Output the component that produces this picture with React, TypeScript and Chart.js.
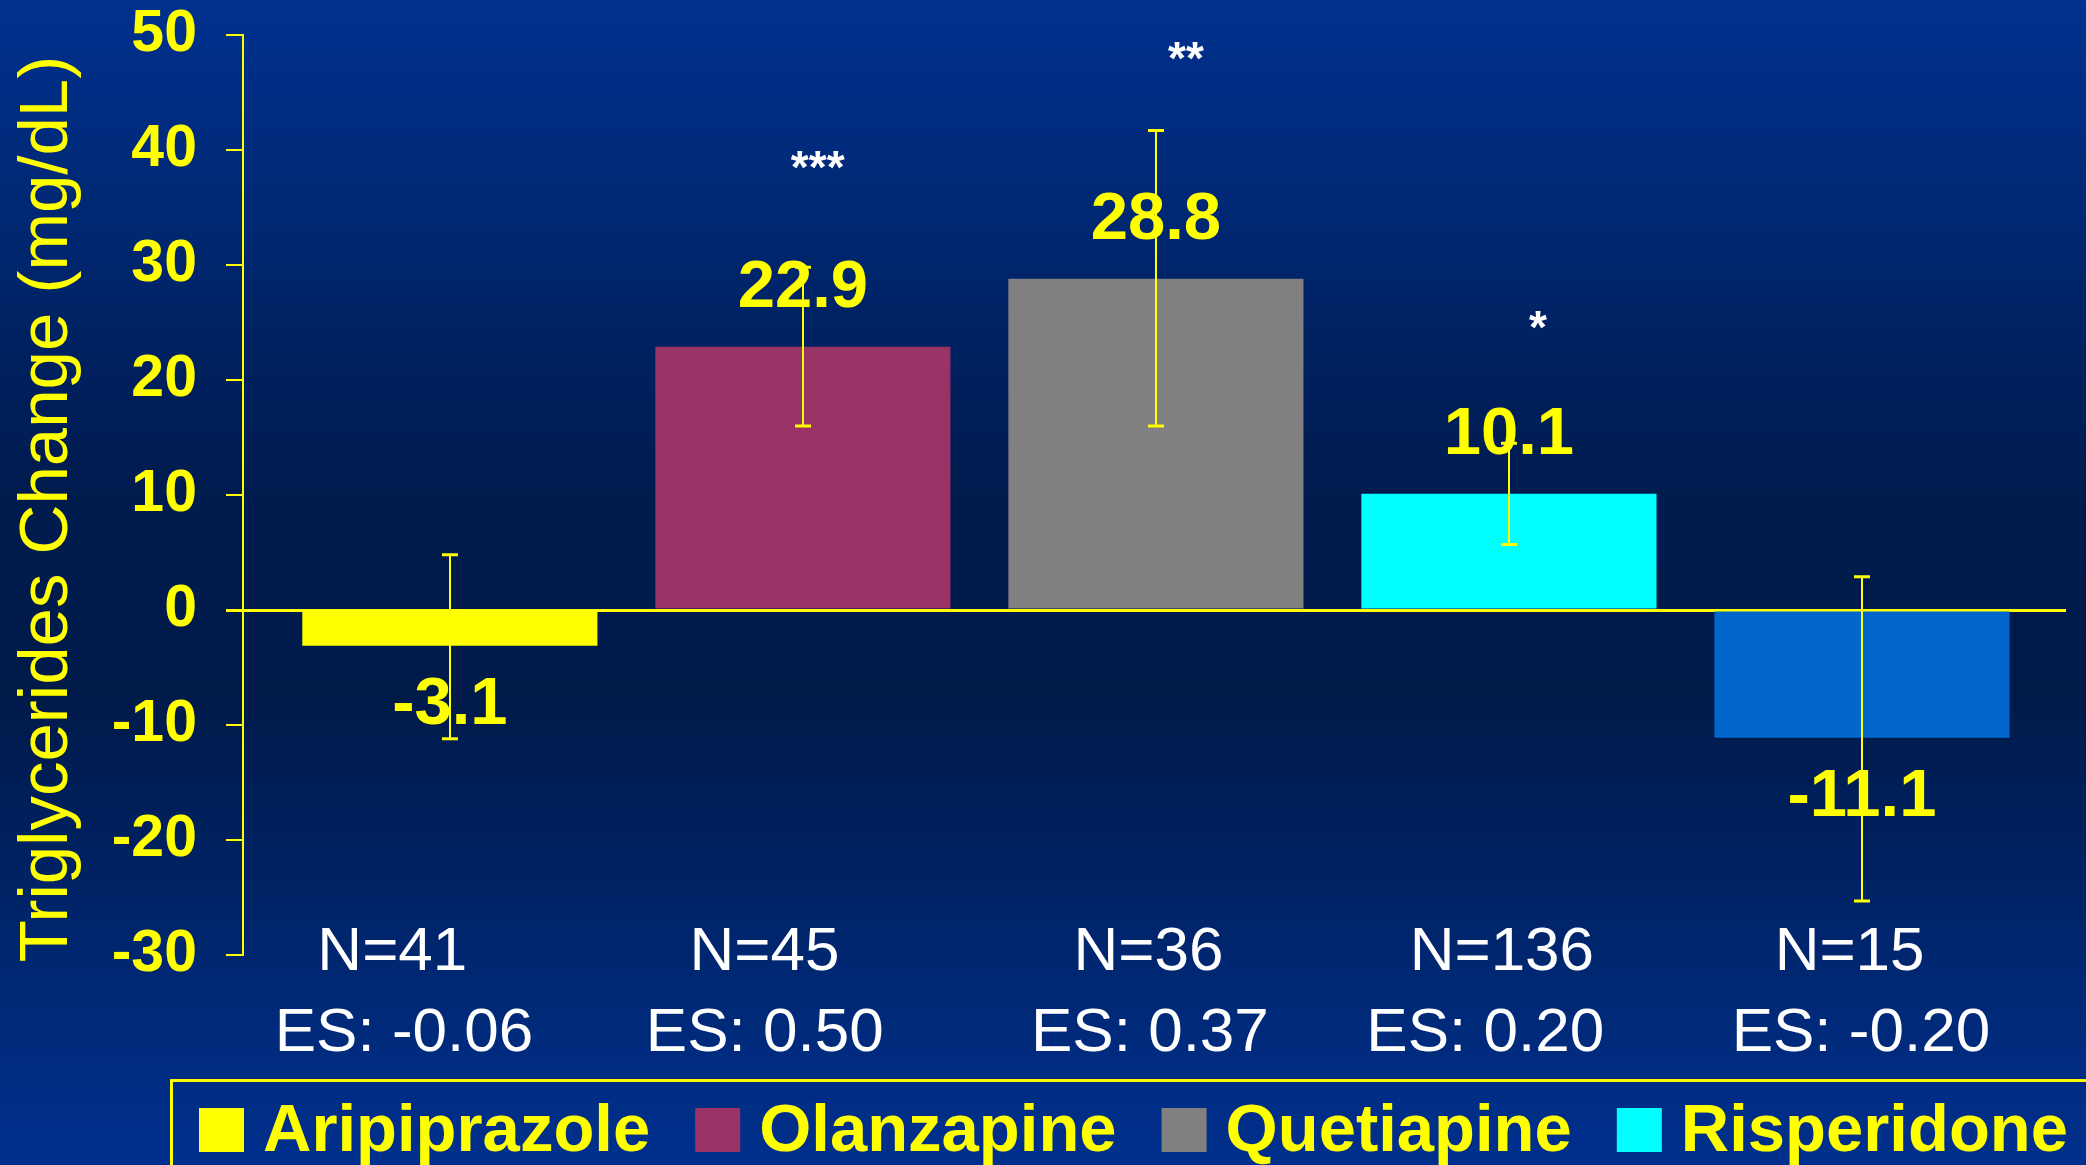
import React, { useEffect, useRef } from 'react';
import { Chart, registerables } from 'chart.js';

Chart.register(...registerables);

// ---------- data ----------
const categories = ['Aripiprazole', 'Olanzapine', 'Quetiapine', 'Risperidone', 'Ziprasidone'];
const meanChange = [-3.1, 22.9, 28.8, 10.1, -11.1];
const errorHigh = [4.8, 29.8, 41.7, 14.5, 2.9];
const errorLow = [-11.2, 16.0, 16.0, 5.7, -25.3];
const sampleSizes = ['N=41', 'N=45', 'N=36', 'N=136', 'N=15'];
const effectSizes = ['ES: -0.06', 'ES: 0.50', 'ES: 0.37', 'ES: 0.20', 'ES: -0.20'];
const significance = ['', '***', '**', '*', ''];
const barColors = ['#FFFF00', '#993366', '#808080', '#00FFFF', '#0066CC'];
const yTickValues = [-30, -20, -10, 0, 10, 20, 30, 40, 50];
const yTitle = 'Triglycerides Change (mg/dL)';

// annotation anchors (category units / value units)
const sigAnchorX = [0, 1.042, 2.085, 3.082, 0];
const sigAnchorY = [0, 39.1, 48.6, 25.2, 0];
const nLabelX = [-0.163, 0.891, 1.979, 2.98, 3.965];
const esLabelX = [-0.13, 0.892, 1.983, 2.933, 3.997];

const FAMILY = '"Liberation Sans", Arial, Helvetica, sans-serif';
const YELLOW = '#FFFF00';

const backgroundPlugin = {
  id: 'bgGradient',
  beforeDraw(chart: any) {
    const { ctx, width, height } = chart;
    const g = ctx.createLinearGradient(0, 0, 0, height);
    g.addColorStop(0, '#00318F');
    g.addColorStop(0.42, '#001B4E');
    g.addColorStop(0.6, '#001A4A');
    g.addColorStop(1, '#00308E');
    ctx.save();
    ctx.fillStyle = g;
    ctx.fillRect(0, 0, width, height);
    ctx.restore();
  },
};

const errorBarPlugin = {
  id: 'errorBars',
  afterDatasetsDraw(chart: any) {
    const { ctx } = chart;
    const yScale = chart.scales.y;
    const meta = chart.getDatasetMeta(0);
    ctx.save();
    ctx.strokeStyle = YELLOW;
    ctx.lineWidth = 2;
    meta.data.forEach((bar: any, i: number) => {
      const x = Math.round(bar.x);
      const yHi = yScale.getPixelForValue(errorHigh[i]);
      const yLo = yScale.getPixelForValue(errorLow[i]);
      ctx.beginPath();
      ctx.moveTo(x, yHi);
      ctx.lineTo(x, yLo);
      ctx.stroke();
      ctx.lineWidth = 3;
      ctx.beginPath();
      ctx.moveTo(x - 8, yHi);
      ctx.lineTo(x + 8, yHi);
      ctx.moveTo(x - 8, yLo);
      ctx.lineTo(x + 8, yLo);
      ctx.stroke();
      ctx.lineWidth = 2;
    });
    ctx.restore();
  },
};

const annotationPlugin = {
  id: 'annotations',
  afterDraw(chart: any) {
    const { ctx } = chart;
    const xScale = chart.scales.x;
    const yScale = chart.scales.y;
    const meta = chart.getDatasetMeta(0);
    ctx.save();

    // value labels
    ctx.font = `bold 67px ${FAMILY}`;
    ctx.fillStyle = YELLOW;
    ctx.textAlign = 'center';
    ctx.textBaseline = 'alphabetic';
    meta.data.forEach((bar: any, i: number) => {
      const v = meanChange[i];
      const y = v >= 0 ? bar.y - 40 : bar.y + 78;
      ctx.fillText(v.toFixed(1), bar.x, y);
    });

    // significance stars
    ctx.font = `bold 46px ${FAMILY}`;
    ctx.fillStyle = '#FFFFFF';
    significance.forEach((s, i) => {
      if (!s) return;
      const m = ctx.measureText(s);
      const cx = xScale.getPixelForValue(sigAnchorX[i]);
      const cy = yScale.getPixelForValue(sigAnchorY[i]);
      ctx.fillText(s, cx, cy + (m.actualBoundingBoxAscent - m.actualBoundingBoxDescent) / 2);
    });

    // N / ES labels below the axis
    const yBottom = yScale.getPixelForValue(yTickValues[0]);
    ctx.font = `62px ${FAMILY}`;
    ctx.fillStyle = '#FFFFFF';
    sampleSizes.forEach((s, i) => {
      ctx.fillText(s, xScale.getPixelForValue(nLabelX[i]), yBottom + 15);
    });
    effectSizes.forEach((s, i) => {
      ctx.fillText(s, xScale.getPixelForValue(esLabelX[i]), yBottom + 96);
    });

    // y axis title
    ctx.save();
    ctx.font = `69px ${FAMILY}`;
    ctx.fillStyle = YELLOW;
    ctx.translate(67, (chart.chartArea.top + chart.chartArea.bottom) / 2 + 14);
    ctx.rotate(-Math.PI / 2);
    ctx.textAlign = 'center';
    ctx.textBaseline = 'alphabetic';
    ctx.fillText(yTitle, 0, 0);
    ctx.restore();

    // legend
    const legTop = 1080;
    ctx.strokeStyle = YELLOW;
    ctx.lineWidth = 3;
    ctx.strokeRect(171.5, legTop + 0.5, 2200, 300);
    ctx.font = `bold 67px ${FAMILY}`;
    ctx.textAlign = 'left';
    let lx = 199;
    categories.forEach((c, i) => {
      ctx.fillStyle = barColors[i];
      ctx.fillRect(lx, legTop + 28, 45, 44);
      ctx.fillStyle = YELLOW;
      ctx.fillText(c, lx + 64, legTop + 71);
      lx += 64 + ctx.measureText(c).width + 45;
    });

    ctx.restore();
  },
};

export default function App() {
  const canvasRef = useRef<HTMLCanvasElement | null>(null);

  useEffect(() => {
    document.body.style.margin = '0';
    document.body.style.overflow = 'hidden';
    const canvas = canvasRef.current;
    if (!canvas) return;
    const chart = new Chart(canvas, {
      type: 'bar',
      data: {
        datasets: [
          {
            label: yTitle,
            data: meanChange.map((v, i) => ({ x: i, y: v })),
            backgroundColor: barColors,
            borderWidth: 0,
            barPercentage: 0.836,
            categoryPercentage: 1,
          },
        ],
      },
      options: {
        responsive: false,
        animation: false,
        devicePixelRatio: 1,
        layout: { padding: { top: 35, right: 20, bottom: 210, left: 0 } },
        plugins: {
          legend: { display: false },
          tooltip: { enabled: false },
        },
        scales: {
          x: {
            type: 'linear',
            min: -0.586,
            max: 4.578,
            offset: false,
            bounds: 'data',
            display: false,
            grid: { offset: false },
            afterBuildTicks: (s: any) => {
              s.ticks = categories.map((_, i) => ({ value: i }));
            },
          },
          y: {
            type: 'linear',
            min: yTickValues[0],
            max: yTickValues[yTickValues.length - 1],
            z: 1,
            afterFit: (s: any) => {
              s.width = 243;
              s.paddingTop = 30;
              s.paddingBottom = 30;
            },
            afterBuildTicks: (s: any) => {
              s.ticks = yTickValues.map((v) => ({ value: v }));
            },
            ticks: {
              color: YELLOW,
              padding: 29,
              font: { family: FAMILY, size: 59, weight: 'bold' },
            },
            grid: {
              color: (c: any) => (c.tick && c.tick.value === 0 ? YELLOW : 'rgba(0,0,0,0)'),
              tickColor: YELLOW,
              tickLength: 17,
              lineWidth: (c: any) => (c.tick && c.tick.value === 0 ? 3 : 2),
            },
            border: { display: true, color: YELLOW, width: 2 },
          },
        },
      } as any,
      plugins: [backgroundPlugin, errorBarPlugin, annotationPlugin],
    });
    return () => chart.destroy();
  }, []);

  return (
    <div style={{ width: 2086, height: 1165, overflow: 'hidden' }}>
      <canvas ref={canvasRef} width={2086} height={1165} style={{ display: 'block' }} />
    </div>
  );
}
